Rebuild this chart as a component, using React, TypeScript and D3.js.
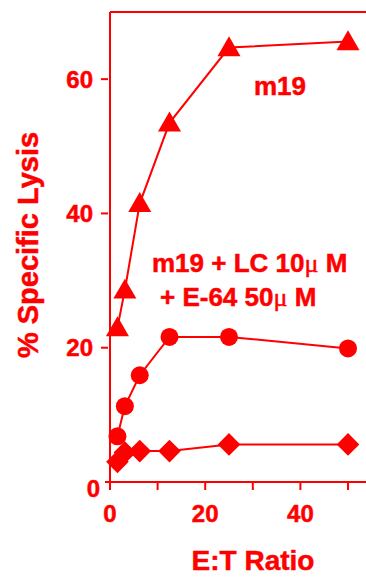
import React from 'react';
import * as d3 from 'd3';

const ratios = [1.5625, 3.125, 6.25, 12.5, 25, 50];
const m19 = [23, 28.6, 41.5, 53.5, 64.7, 65.6];
const withLC = [6.8, 11.3, 15.9, 21.6, 21.6, 19.9];
const withE64 = [3.0, 4.4, 4.6, 4.6, 5.6, 5.6];
const xTicks = [0, 10, 20, 30, 40, 50];
const xLabels = [0, 20, 40];
const yLabels = [0, 20, 40, 60];

const RED = '#ff0000';
const FONT = '"Liberation Sans", Arial, sans-serif';

const W = 366;
const H = 583;

const App = () => {
  const x = d3.scaleLinear().domain([0, 50]).range([110, 348]);
  const y = d3.scaleLinear().domain([0, 70]).range([482, 12]);

  const line = d3.line<number>()
    .x((_, i) => x(ratios[i]))
    .y(d => y(d));

  const tri = d3.symbol().type(d3.symbolTriangle).size(230)();
  const txt = { fill: RED, stroke: RED, strokeWidth: 0.5, fontFamily: FONT, fontWeight: 'bold' as const };
  const mu = { fontFamily: '"Liberation Serif", serif', fontWeight: 'normal' as const };

  return (
    <svg width={W} height={H} style={{ position: 'absolute', left: 0, top: 0 }}>
      <rect width={W} height={H} fill="#fff" />

      {/* axes frame */}
      <line x1={x(0)} x2={x(0)} y1={y(70)} y2={490} stroke={RED} strokeWidth={2} />
      <line x1={x(0)} x2={W} y1={y(70)} y2={y(70)} stroke={RED} strokeWidth={2} />
      <line x1={105} x2={W} y1={y(0)} y2={y(0)} stroke={RED} strokeWidth={2} />

      {xTicks.map(t => (
        <line key={t} x1={x(t)} x2={x(t)} y1={y(0)} y2={490} stroke={RED} strokeWidth={2} />
      ))}
      {xLabels.map(t => (
        <text key={t} x={x(t)} y={522} textAnchor="middle" fontSize={24} {...txt}>{t}</text>
      ))}
      {yLabels.filter(t => t > 0).map(t => (
        <line key={t} x1={101} x2={108} y1={y(t)} y2={y(t)} stroke={RED} strokeWidth={2} />
      ))}
      {yLabels.map(t => (
        <text key={t} x={t === 0 ? 100 : 93} y={y(t) + (t === 0 ? 15 : 8.5)} textAnchor="end" fontSize={24} {...txt}>{t}</text>
      ))}

      <text x={253} y={570} textAnchor="middle" fontSize={28} {...txt}>E:T Ratio</text>
      <text transform="translate(38,245) rotate(-90)" textAnchor="middle" fontSize={29} {...txt}>% Specific Lysis</text>

      {/* series */}
      {[m19, withLC, withE64].map((s, k) => (
        <path key={k} d={line(s) ?? ''} fill="none" stroke={RED} strokeWidth={2} />
      ))}
      {m19.map((v, i) => (
        <path key={'t' + i} d={tri ?? ''} transform={`translate(${x(ratios[i])},${y(v) + 2})`} fill={RED} />
      ))}
      {withLC.map((v, i) => (
        <circle key={'c' + i} cx={x(ratios[i])} cy={y(v)} r={9} fill={RED} />
      ))}
      {withE64.map((v, i) => (
        <rect key={'d' + i} x={-8} y={-8} width={16} height={16} fill={RED}
          transform={`translate(${x(ratios[i])},${y(v)}) rotate(45)`} />
      ))}

      <text x={280} y={95} textAnchor="middle" fontSize={26} {...txt}>m19</text>
      <text x={152} y={272} fontSize={26} {...txt}>m19 + LC 10<tspan {...mu}>μ</tspan> M</text>
      <text x={160} y={306} fontSize={26} {...txt}>+ E-64 50<tspan {...mu}>μ</tspan> M</text>
    </svg>
  );
};

export default App;
